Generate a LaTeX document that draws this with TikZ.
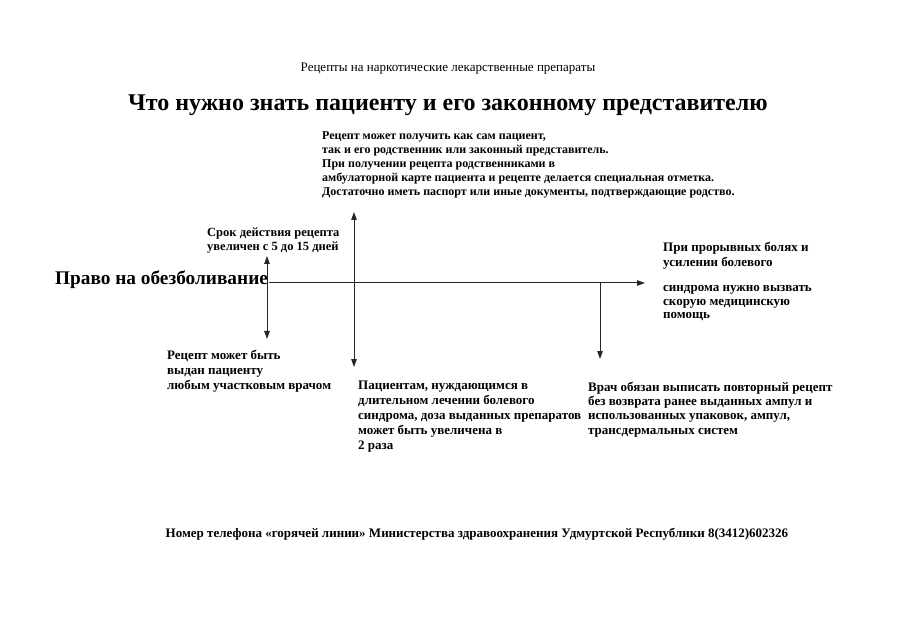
\documentclass[tikz,border=0pt]{standalone}
\usepackage{fontspec}
\setmainfont{Liberation Serif}
\usetikzlibrary{arrows.meta}
\begin{document}
\begin{tikzpicture}[x=1pt,y=-1pt,
  txt/.style={inner sep=0pt,anchor=north west,align=left,font=\bfseries\fontsize{13}{15}\selectfont},
  ptxt/.style={txt,font=\bfseries\fontsize{12}{14}\selectfont},
  ln/.style={line width=1pt,draw=black!85},
  tip/.tip={Triangle[length=8pt,width=5.5pt]},
  arr/.style={ln,-tip},
  darr/.style={ln,tip-tip}]
\useasboundingbox[fill=white] (0,0) rectangle (897,628);
% headings
\node[inner sep=0pt,anchor=base] (hdr) at (448,72) {\fontsize{13}{15}\selectfont Рецепты на наркотические лекарственные препараты};
\node[inner sep=0pt,anchor=base] (ttl) at (448,111) {\bfseries\fontsize{24}{27}\selectfont Что нужно знать пациенту и его законному представителю};
% top paragraph
\node[ptxt] (para) at (322,131) {Рецепт может получить как сам пациент,\\так и его родственник или законный представитель.\\При получении рецепта родственниками в\\амбулаторной карте пациента и рецепте делается специальная отметка.\\Достаточно иметь паспорт или иные документы, подтверждающие родство.};
% left label
\node[inner sep=0pt,anchor=base west] (pravo) at (55,285) {\bfseries\fontsize{19.3}{21}\selectfont Право на обезболивание};
% text blocks
\node[txt,font=\bfseries\fontsize{12.5}{13.5}\selectfont] (srok) at (207,228) {Срок действия рецепта\\увеличен с 5 до 15 дней};
\node[txt] (pri1) at (663,242) {При прорывных болях и\\усилении болевого};
\node[txt,font=\bfseries\fontsize{13}{13.8}\selectfont] (pri2) at (663,285) {синдрома нужно вызвать\\скорую медицинскую\\помощь};
\node[txt] (vyd) at (167,350) {Рецепт может быть\\выдан пациенту\\любым участковым врачом};
\node[txt] (pac) at (358,381) {Пациентам, нуждающимся в\\длительном лечении болевого\\синдрома, доза выданных препаратов\\может быть увеличена в\\2 раза};
\node[txt,font=\bfseries\fontsize{13}{14.2}\selectfont] (vrach) at (588,382) {Врач обязан выписать повторный рецепт\\без возврата ранее выданных ампул и\\использованных упаковок, ампул,\\трансдермальных систем};
\node[inner sep=0pt,anchor=base] (tel) at (477,537) {\bfseries\fontsize{13}{15}\selectfont Номер телефона «горячей линии» Министерства здравоохранения Удмуртской Республики 8(3412)602326};
% axes
\coordinate (h0) at (269,283);
\coordinate (h1) at (645,283);
\coordinate (hx) at (600,283);
\coordinate (a0t) at (267,256);
\coordinate (a0b) at (267,339);
\coordinate (a1t) at (354,212);
\coordinate (a1b) at (354,367);
\coordinate (a2b) at (600,359);
\draw[arr] (h0) -- (h1);
\draw[darr] (a0t) -- (a0b);
\draw[darr] (a1t) -- (a1b);
\draw[arr] (hx) -- (a2b);
\end{tikzpicture}
\end{document}
